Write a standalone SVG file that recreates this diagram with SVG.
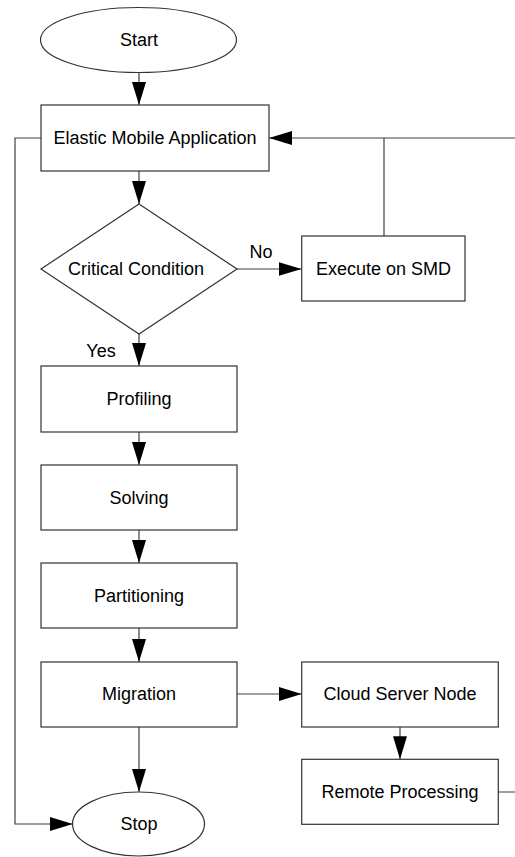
<svg xmlns="http://www.w3.org/2000/svg" width="515" height="857" viewBox="0 0 515 857">
<defs>
<style>
.n{fill:#fff;stroke:#333;stroke-width:1.2}
.t{font-family:"Liberation Sans",Arial,sans-serif;font-size:18px;fill:#000;text-anchor:middle}
.c{fill:none;stroke:#404040;stroke-width:1.2}
</style>
<marker id="ah" markerUnits="userSpaceOnUse" markerWidth="24" markerHeight="15" refX="23" refY="7.5" orient="auto" viewBox="0 0 24 15">
<path d="M0,0.5 L23,7.5 L0,14.5 z" fill="#000"/>
</marker>
</defs>
<rect width="515" height="857" fill="#fff"/>
<g id="connectors">
<path class="c" d="M139,72 L139,105" marker-end="url(#ah)"/>
<path class="c" d="M139,171 L139,204" marker-end="url(#ah)"/>
<path class="c" d="M237,269 L301.5,269" marker-end="url(#ah)"/>
<path class="c" d="M384,236 L384,138"/>
<path class="c" d="M498.3,792 L522,792 L522,138 L269,138" marker-end="url(#ah)"/>
<path class="c" d="M139,334 L139,366" marker-end="url(#ah)"/>
<path class="c" d="M139,432 L139,465" marker-end="url(#ah)"/>
<path class="c" d="M139,530 L139,563" marker-end="url(#ah)"/>
<path class="c" d="M139,628 L139,662" marker-end="url(#ah)"/>
<path class="c" d="M139,727 L139,792" marker-end="url(#ah)"/>
<path class="c" d="M237,694 L301.7,694" marker-end="url(#ah)"/>
<path class="c" d="M400,727 L400,759.3" marker-end="url(#ah)"/>
<path class="c" d="M41,138 L15,138 L15,824 L72.7,824" marker-end="url(#ah)"/>
<text class="t" x="261" y="258">No</text>
<text class="t" x="101" y="357">Yes</text>
</g>
<g id="start">
<ellipse class="n" cx="138.5" cy="40" rx="98" ry="32.5"/>
<text class="t" x="139" y="46">Start</text>
</g>
<g id="ema">
<rect class="n" x="41" y="105" width="228" height="66"/>
<text class="t" x="155" y="144">Elastic Mobile Application</text>
</g>
<g id="critical">
<polygon class="n" points="139,204 237,269 139,334 41,269"/>
<text class="t" x="136" y="275">Critical Condition</text>
</g>
<g id="execute">
<rect class="n" x="301.7" y="236" width="163.3" height="65"/>
<text class="t" x="383.5" y="275">Execute on SMD</text>
</g>
<g id="profiling">
<rect class="n" x="41" y="366" width="196" height="66"/>
<text class="t" x="139" y="405">Profiling</text>
</g>
<g id="solving">
<rect class="n" x="41" y="465" width="196" height="65"/>
<text class="t" x="139" y="504">Solving</text>
</g>
<g id="partitioning">
<rect class="n" x="41" y="563" width="196" height="65"/>
<text class="t" x="139" y="602">Partitioning</text>
</g>
<g id="migration">
<rect class="n" x="41" y="662" width="196" height="65"/>
<text class="t" x="139" y="700">Migration</text>
</g>
<g id="cloud">
<rect class="n" x="301.7" y="662" width="196.6" height="65"/>
<text class="t" x="400" y="700">Cloud Server Node</text>
</g>
<g id="remote">
<rect class="n" x="301.7" y="759.3" width="196.6" height="65"/>
<text class="t" x="400" y="798">Remote Processing</text>
</g>
<g id="stop">
<ellipse class="n" cx="138.5" cy="824" rx="66" ry="32"/>
<text class="t" x="139" y="830">Stop</text>
</g>
</svg>
